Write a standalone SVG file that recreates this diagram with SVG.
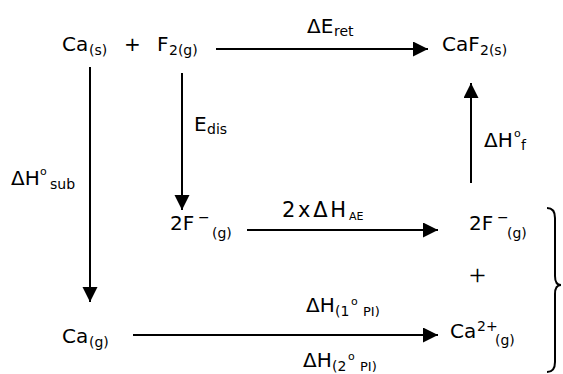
<svg xmlns="http://www.w3.org/2000/svg" width="563" height="374" viewBox="0 0 563 374">
<style>
text{font-family:"DejaVu Sans","Verdana",sans-serif;fill:#000}
.m{font-size:20px}
.s{font-size:14px}
.t{font-size:11px}
.p{font-size:13px}
.edge{stroke:#000;stroke-width:2;fill:none}
.plus{font-family:"Liberation Serif",serif;font-size:30px}
</style>
<defs>
<marker id="ah" markerUnits="userSpaceOnUse" markerWidth="16" markerHeight="16" refX="15" refY="7.5" orient="auto">
<path d="M0,0 L15,7.5 L0,15 z" fill="#000"/>
</marker>
</defs>
<g id="connectors">
<line class="edge" x1="216" y1="49" x2="428" y2="49" marker-end="url(#ah)"/>
<line class="edge" x1="471" y1="183" x2="471" y2="83" marker-end="url(#ah)"/>
<line class="edge" x1="90" y1="67" x2="90" y2="302" marker-end="url(#ah)"/>
<line class="edge" x1="182" y1="73" x2="182" y2="210" marker-end="url(#ah)"/>
<line class="edge" x1="247" y1="230" x2="438" y2="230" marker-end="url(#ah)"/>
<line class="edge" x1="133" y1="335" x2="438" y2="335" marker-end="url(#ah)"/>
<path class="edge" d="M547,208 Q555,208 555,218 L555,276 Q555,285 561,285 Q555,285 555,294 L555,362 Q555,372 547,372"/>
</g>
<g id="reactants">
<text class="m" x="62" y="51">Ca</text><text class="s" x="89" y="55">(s)</text>
<text class="m" x="124" y="51">+</text>
<text class="m" x="157" y="51">F</text><text class="s" x="169" y="55">2(g)</text>
</g>
<g id="product">
<text class="m" x="442" y="51">CaF</text><text class="s" x="480" y="55">2(s)</text>
</g>
<g id="label-ret">
<text class="m" x="307" y="33">ΔE</text><text class="s" x="334" y="36">ret</text>
</g>
<g id="label-sub">
<text class="m" x="11" y="185">ΔH</text><text class="t" x="40" y="175">o</text><text class="s" x="50" y="189">sub</text>
</g>
<g id="label-dis">
<text class="m" x="194" y="131">E</text><text class="s" x="207" y="134">dis</text>
</g>
<g id="label-f">
<text class="m" x="484" y="147">ΔH</text><text class="t" x="514" y="137">o</text><text class="s" x="521" y="150">f</text>
</g>
<g id="fluoride-mid">
<text class="m" x="170" y="230">2F</text><text class="s" x="198" y="222">−</text><text class="s" x="212" y="238">(g)</text>
</g>
<g id="label-ae">
<text x="282" y="217" font-size="21" textLength="64" lengthAdjust="spacing">2xΔH</text><text class="t" x="349" y="220">AE</text>
</g>
<g id="fluoride-right">
<text class="m" x="469" y="230">2F</text><text class="s" x="497" y="222">−</text><text class="s" x="507" y="238">(g)</text>
</g>
<g id="plus-right">
<text class="plus" x="469" y="285">+</text>
</g>
<g id="calcium-gas">
<text class="m" x="62" y="343">Ca</text><text class="s" x="89" y="347">(g)</text>
</g>
<g id="label-pi1">
<text class="m" x="306" y="312">ΔH</text><text class="s" x="335" y="316">(1</text><text class="t" x="351" y="305">o</text><text class="p" x="363" y="316">PI)</text>
</g>
<g id="label-pi2">
<text class="m" x="303" y="367">ΔH</text><text class="s" x="332" y="371">(2</text><text class="t" x="348" y="360">o</text><text class="p" x="360" y="371">PI)</text>
</g>
<g id="calcium-ion">
<text class="m" x="450" y="338">Ca</text><text class="s" x="477" y="331">2+</text><text class="s" x="495" y="345">(g)</text>
</g>
</svg>
